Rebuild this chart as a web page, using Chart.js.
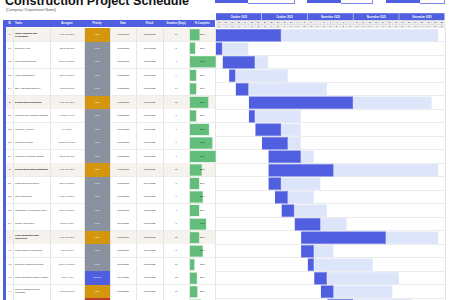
<!DOCTYPE html>
<html>
<head>
<meta charset="utf-8">
<script src="https://cdn.jsdelivr.net/npm/chart.js@4.4.1/dist/chart.umd.min.js"></script>
<style>
  html, body { margin: 0; padding: 0; background: #fff; }
  #page { position: relative; width: 450px; height: 300px; overflow: hidden; font-family: "Liberation Sans", Arial, sans-serif; }
  .abs { position: absolute; }
  #title { left: 5px; top: -6px; font-size: 12.6px; line-height: 15px; font-weight: bold; color: #111; white-space: nowrap; }
  #subtitle { left: 6px; top: 8.3px; font-size: 3.6px; line-height: 4px; color: #555; white-space: nowrap; }
  .box-a { top: -2px; height: 5.3px; background: #4f5fe0; }
  .box-b { top: -2px; height: 4.3px; background: #fff; border: 1px solid #7d88ea; border-left: none; }
  .cell { position: absolute; display: flex; align-items: center; justify-content: center; text-align: center; box-sizing: border-box; overflow: hidden; }
  .hdr { color: #fff; font-weight: bold; font-size: 2.6px; line-height: 3px; }
  .txt { font-size: 2.4px; line-height: 3px; color: #333; }
</style>
</head>
<body>
<div id="page">
  <div id="title" class="abs">Construction Project Schedule</div>
  <div id="subtitle" class="abs">[Company / Department Name]</div>
  <div class="abs box-a" style="left:215px;width:33px"></div>
  <div class="abs box-b" style="left:248px;width:46px"></div>
  <div class="abs box-a" style="left:307px;width:34px"></div>
  <div class="abs box-b" style="left:341px;width:31px"></div>
  <div class="abs box-a" style="left:386px;width:34px"></div>
  <div class="abs box-b" style="left:420px;width:24px"></div>
  <div id="rows"></div>
  <canvas id="pctChart" class="abs" width="26" height="284" style="left:189.5px;top:28px"></canvas>
  <div id="pctText"></div>
  <canvas id="ganttChart" class="abs" width="229" height="299" style="left:216px;top:12.5px"></canvas>
</div>
<script>
// schedule data
const taskIds = ["1", "1.1", "1.2", "1.3", "1.4", "2", "2.1", "2.2", "2.3", "2.4", "3", "3.1", "3.2", "3.3", "3.4", "4", "4.1", "4.2", "4.3", "4.4", "4.5"];
const taskNames = [
  "Initial Planning and Preparation", "Discovery Call", "Client Questionnaire", "Initial Consultation", "Site Assessment/Survey",
  "Design and Scheduling", "Proposal and Contract Drafting", "Timeline Approval", "Request Permits", "Complete Purchase Orders",
  "Procurement and Installation", "Materials Procurement", "Site Preparation", "Installation / Foundation Work", "Quality Inspection",
  "Final Installation and Inspection", "Final Phase of Installation", "Detailed Finishing Touches", "Post-Installation Quality Control", "Client Walkthrough and Feedback",
  "Project Handover"
];
const phaseRows = [0, 5, 10, 15];
const assignees = [
  "Lisa Thornton", "Ethan Brooks", "Daniel Mendez", "Emilia Russell", "Noah Bennett",
  "Lisa Thornton", "Jordan Hayes", "Ivy Carter", "Ophelia Monroe", "Ethan Brooks",
  "Lisa Thornton", "Emilia Russell", "Liam Whitaker", "Emilia Russell", "Caleb Foster",
  "Lisa Thornton", "Olivia Grant", "Daniel Mendez", "Grace Hunt", "Noah Bennett",
  "Ivy Carter"
];
const priorities = ["High", "Low", "Low", "Low", "Low", "High", "Low", "Low", "Low", "Low", "High", "Low", "Low", "Low", "Low", "High", "Low", "Low", "Normal", "High", "Critical"];
const startDay = [0, 0, 1, 2, 3, 5, 5, 6, 7, 8, 8, 8, 9, 10, 12, 13, 13, 14, 15, 16, 17];
const durationDays = [34, 5, 7, 9, 14, 28, 8, 7, 6, 7, 26, 8, 6, 7, 8, 21, 5, 10, 13, 11, 13];
const doneDays = [10, 1, 5, 1, 2, 16, 1, 4, 4, 5, 10, 2, 2, 2, 4, 13, 2, 1, 2, 2, 4];
const pctComplete = [27, 15, 71, 18, 18, 51, 18, 53, 62, 71, 33, 26, 36, 26, 45, 26, 36, 13, 20, 21, 30];

// timeline header labels
const projectStart = new Date(2025, 9, 20);
const weekLabels = ["October 2025", "October 2025", "November 2025", "November 2025", "November 2025"];
const dayLetters = ["M", "T", "W", "T", "F", "S", "S"];
const columnTitles = ["ID", "Tasks", "Assignee", "Priority", "Start", "Finish", "Duration (Days)", "% Complete"];

const blue = "#4f5fe0";
const priorityColors = { High: "#d4960e", Low: "#8a929f", Normal: "#4f5fe0", Critical: "#c23b2a" };
const ROW_TOP = 28, ROW_H = 13.5;
const cols = [[6, 7.3], [13.3, 36.7], [50, 34], [84, 26], [110, 26], [136, 27], [163, 26.5], [189.5, 25.5]];

function fmtDate(offset) {
  const d = new Date(projectStart);
  d.setDate(d.getDate() + offset);
  return String(d.getMonth() + 1).padStart(2, "0") + "/" + String(d.getDate()).padStart(2, "0") + "/" + d.getFullYear();
}

// table (html)
const rowsEl = document.getElementById("rows");
let html = "";
html += `<div class="abs" style="left:3px;top:20px;width:212px;height:7px;background:${blue}"></div>`;
columnTitles.forEach((t, c) => {
  const [x, w] = cols[c];
  const align = c === 1 ? "justify-content:flex-start;padding-left:1.7px;" : "";
  html += `<div class="cell hdr" style="left:${x}px;top:20px;width:${w}px;height:7px;${align}">${t}</div>`;
});
html += `<div class="abs" style="left:3.3px;top:27px;width:2.5px;height:290px;background:${blue}"></div>`;
taskIds.forEach((id, i) => {
  const top = ROW_TOP + i * ROW_H;
  const phase = phaseRows.includes(i);
  html += `<div class="abs" style="left:5.8px;top:${top}px;width:209.2px;height:${ROW_H}px;background:${phase ? "#f6f3ef" : "#fff"}"></div>`;
  html += `<div class="abs" style="left:5.8px;top:${top + ROW_H - 0.5}px;width:440px;height:0.5px;background:#ececec"></div>`;
  const weight = phase ? "font-weight:bold;color:#111;" : "";
  const values = [
    id, taskNames[i], assignees[i], priorities[i], fmtDate(startDay[i]),
    fmtDate(startDay[i] + durationDays[i] - 1), String(durationDays[i])
  ];
  values.forEach((v, c) => {
    const [x, w] = cols[c];
    let extra = "";
    if (c === 1) extra = "justify-content:flex-start;text-align:left;padding-left:1.7px;padding-right:1px;" + weight;
    if (c === 0 && phase) extra = "font-weight:bold;";
    if (c === 2) extra = "color:#555;";
    if (c === 3) extra = `background:${priorityColors[v]};color:#fff;`;
    html += `<div class="cell txt" style="left:${x}px;top:${top}px;width:${w}px;height:${ROW_H}px;${extra}">${v}</div>`;
  });
});
// column separators
cols.slice(1).map(c => c[0]).concat([215]).forEach(x => {
  html += `<div class="abs" style="left:${x - 0.3}px;top:27px;width:0.5px;height:290px;background:#e6e6e6"></div>`;
});
html += `<div class="abs" style="left:445.3px;top:27px;width:0.8px;height:290px;background:#e4e4e4"></div>`;
rowsEl.innerHTML = html;

// percent labels
document.getElementById("pctText").innerHTML = pctComplete.map((p, i) =>
  `<div class="cell txt" style="left:189.5px;top:${ROW_TOP + i * ROW_H}px;width:25.5px;height:${ROW_H}px;padding-left:0.5px;color:#222">${p}%</div>`
).join("");

// % complete data bars
new Chart(document.getElementById("pctChart"), {
  type: "bar",
  data: {
    labels: taskIds,
    datasets: [{
      data: pctComplete,
      backgroundColor: "#63be7b",
      borderColor: "#8fd3a3",
      borderWidth: 0.5,
      barPercentage: 0.88,
      categoryPercentage: 1
    }]
  },
  options: {
    indexAxis: "y",
    responsive: false,
    animation: false,
    layout: { padding: 0 },
    plugins: { legend: { display: false }, tooltip: { enabled: false } },
    scales: {
      x: { display: false, min: 0, max: Math.max(...pctComplete) },
      y: { display: false }
    }
  }
});

// timeline header drawn over the gantt x scale
const ganttHeader = {
  id: "ganttHeader",
  beforeDraw(chart) {
    const { ctx, scales: { x } } = chart;
    ctx.save();
    ctx.textAlign = "center";
    ctx.textBaseline = "middle";
    weekLabels.forEach((label, w) => {
      const x0 = x.getPixelForValue(w * 7), x1 = x.getPixelForValue(w * 7 + 7);
      ctx.fillStyle = blue;
      ctx.fillRect(x0, 0.2, x1 - x0 - 0.5, 7.1);
      ctx.fillStyle = "#fff";
      ctx.font = "bold 2.6px 'Liberation Sans'";
      ctx.fillText(label, (x0 + x1) / 2, 3.8);
    });
    for (let d = 0; d < weekLabels.length * 7; d++) {
      const x0 = x.getPixelForValue(d), x1 = x.getPixelForValue(d + 1);
      const date = new Date(projectStart);
      date.setDate(date.getDate() + d);
      ctx.fillStyle = "#efefef";
      ctx.fillRect(x0, 7.6, x1 - x0, 7.2);
      ctx.strokeStyle = "#d9d9d9";
      ctx.lineWidth = 0.4;
      ctx.strokeRect(x0, 7.6, x1 - x0, 3.6);
      ctx.strokeRect(x0, 11.2, x1 - x0, 3.6);
      ctx.fillStyle = "#444";
      ctx.font = "2.2px 'Liberation Sans'";
      ctx.fillText(String(date.getDate()), (x0 + x1) / 2, 9.5);
      ctx.fillText(dayLetters[d % 7], (x0 + x1) / 2, 13.1);
    }
    ctx.restore();
  }
};

new Chart(document.getElementById("ganttChart"), {
  type: "bar",
  data: {
    labels: taskIds,
    datasets: [
      {
        label: "Done",
        data: startDay.map((s, i) => [s, s + doneDays[i]]),
        backgroundColor: blue,
        borderColor: "#6b77e8",
        borderWidth: 0.6,
        grouped: false,
        order: 0
      },
      {
        label: "Remaining",
        data: startDay.map((s, i) => [s + doneDays[i], s + durationDays[i]]),
        backgroundColor: "#dce5f9",
        borderColor: "#e6edfb",
        borderWidth: 0.4,
        grouped: false,
        order: 1
      }
    ]
  },
  options: {
    indexAxis: "y",
    responsive: false,
    animation: false,
    datasets: { bar: { barPercentage: 0.95, categoryPercentage: 1 } },
    layout: { padding: { top: 15.5, left: 0, right: 0, bottom: 0 } },
    plugins: { legend: { display: false }, tooltip: { enabled: false } },
    scales: {
      x: { type: "linear", display: false, min: 0, max: weekLabels.length * 7 },
      y: { display: false }
    }
  },
  plugins: [ganttHeader]
});
</script>
</body>
</html>
